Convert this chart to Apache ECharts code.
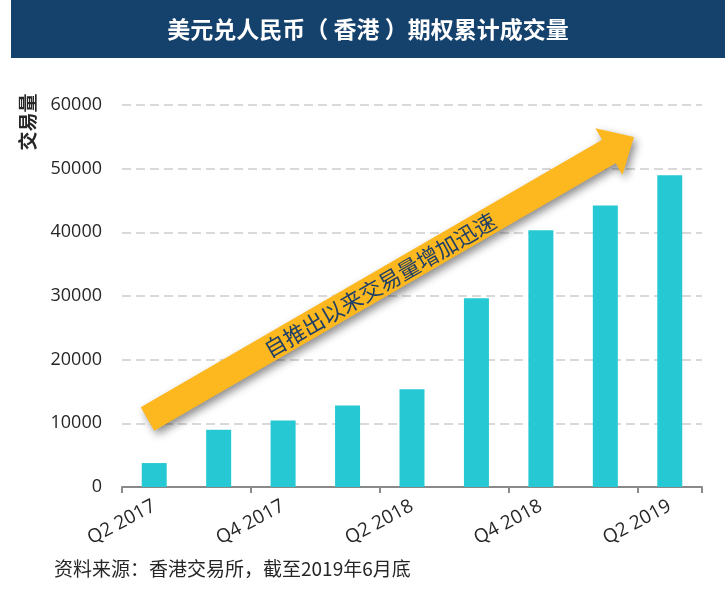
<!DOCTYPE html>
<html>
<head>
<meta charset="utf-8">
<script src="https://cdn.jsdelivr.net/npm/echarts@6/dist/echarts.min.js"></script>
<style>
  html, body { margin: 0; padding: 0; background: #fff; }
  #chart { width: 725px; height: 593px; }
</style>
</head>
<body>
<div id="chart"></div>
<script>
// ---- Data ----
const categories = ['Q2 2017', 'Q3 2017', 'Q4 2017', 'Q1 2018', 'Q2 2018', 'Q3 2018', 'Q4 2018', 'Q1 2019', 'Q2 2019'];
const volumes = [3760, 9000, 10430, 12810, 15350, 29640, 40320, 44210, 48960];
const yTicks = { min: 0, max: 60000, interval: 10000 };
const titleText = '美元兑人民币（ 香港 ）期权累计成交量';
const yAxisName = '交易量';
const arrowText = '自推出以来交易量增加迅速';
const sourceText = '资料来源：香港交易所，截至2019年6月底';

const FONT = '"Open Sans", "Noto Sans CJK SC", sans-serif';
const CJK = '"Noto Sans CJK SC", sans-serif';

// ---- Arrow annotation geometry (pixels) ----
const tail = [147.5, 419];
const tip = [634, 137];
const shaftHalf = 13.5, headHalf = 27, headLen = 29;
const dx = tip[0] - tail[0], dy = tip[1] - tail[1];
const L = Math.sqrt(dx * dx + dy * dy);
const ang = Math.atan2(-dy, dx); // upward angle
const local = [
  [0, -shaftHalf], [L - headLen, -shaftHalf], [L - headLen, -headHalf], [L, 0],
  [L - headLen, headHalf], [L - headLen, shaftHalf], [0, shaftHalf]
];
const ux = Math.cos(ang), uy = -Math.sin(ang);   // along
const nx = Math.sin(ang), ny = Math.cos(ang);    // perpendicular (down-right)
const arrowPts = local.map(p => [tail[0] + p[0] * ux + p[1] * nx, tail[1] + p[0] * uy + p[1] * ny]);
const textPos = [380, 285];

const chart = echarts.init(document.getElementById('chart'));
chart.setOption({
  animation: false,
  textStyle: { fontFamily: FONT },
  grid: { left: 122, right: 23, top: 105, bottom: 106, containLabel: false },
  xAxis: {
    type: 'category',
    data: categories,
    axisLine: { lineStyle: { color: '#898989', width: 2 } },
    axisTick: { show: true, length: 6, lineStyle: { color: '#898989', width: 2 } },
    axisLabel: { interval: 1, rotate: 28, fontSize: 19, color: '#262626', margin: 18, fontFamily: FONT }
  },
  yAxis: {
    type: 'value',
    min: yTicks.min, max: yTicks.max, interval: yTicks.interval,
    axisLine: { show: false },
    axisTick: { show: false },
    axisLabel: { fontSize: 18, color: '#262626', margin: 20, fontFamily: FONT, formatter: v => String(v) },
    splitLine: { lineStyle: { color: '#d9d9d9', width: 2, type: [9, 5] } }
  },
  series: [{
    type: 'bar',
    data: volumes,
    barWidth: 25,
    itemStyle: { color: '#26C9D3' }
  }],
  graphic: [
    { type: 'rect', shape: { x: 11, y: 0, width: 714, height: 58 }, style: { fill: '#15426C' }, z: 10 },
    { type: 'text', x: 368, y: 29, z: 11,
      style: { text: titleText, fill: '#fff', font: 'bold 23px ' + CJK, align: 'center', verticalAlign: 'middle' } },
    { type: 'text', x: 28, y: 122, rotation: Math.PI / 2, z: 11,
      style: { text: yAxisName, fill: '#262626', font: 'bold 19px ' + CJK, align: 'center', verticalAlign: 'middle' } },
    { type: 'text', x: 54, y: 569, z: 11,
      style: { text: sourceText, fill: '#262626', font: '19px ' + CJK, verticalAlign: 'middle' } },
    { type: 'polygon', z: 20, shape: { points: arrowPts },
      style: { fill: '#FDB71F', shadowBlur: 8, shadowColor: 'rgba(0,0,0,0.45)', shadowOffsetX: 3, shadowOffsetY: 4 } },
    { type: 'text', x: textPos[0], y: textPos[1], rotation: ang, z: 21,
      style: { text: arrowText, fill: '#1F3F66', font: '22px ' + CJK, align: 'center', verticalAlign: 'middle' } }
  ]
});
</script>
</body>
</html>
